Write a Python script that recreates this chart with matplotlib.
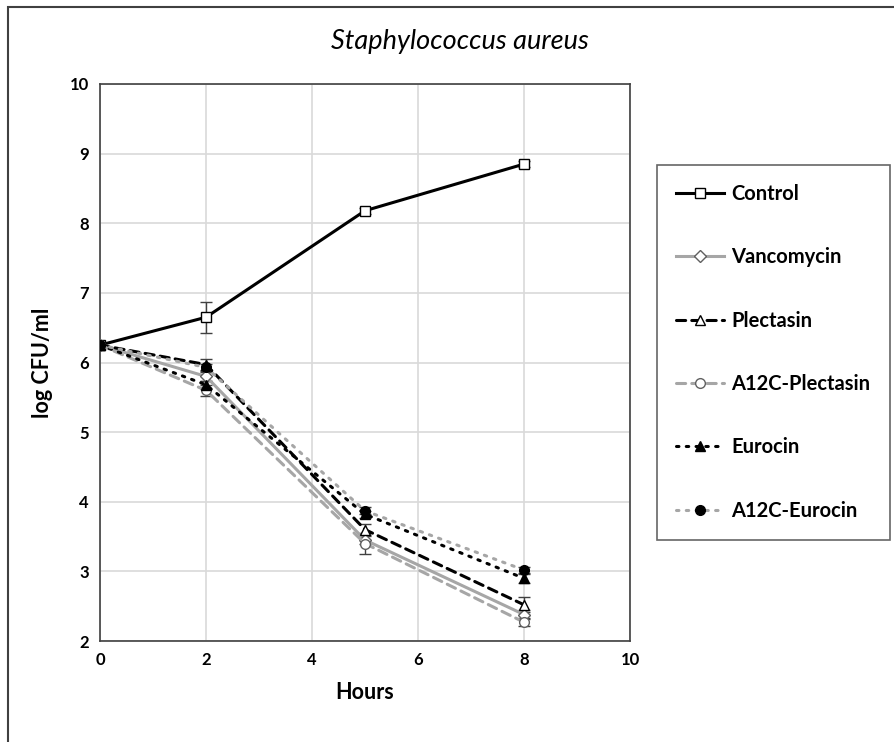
import numpy as np
import matplotlib.pyplot as plt
from matplotlib.patches import Rectangle

plt.rcParams['font.family'] = ['Lato', 'DejaVu Sans']

# time points (hours)
hours = [0, 2, 5, 8]

# log CFU/ml per treatment
control = [6.25, 6.65, 8.18, 8.85]
vancomycin = [6.25, 5.80, 3.45, 2.38]
plectasin = [6.25, 5.97, 3.60, 2.52]
a12c_plectasin = [6.25, 5.60, 3.40, 2.27]
eurocin = [6.25, 5.68, 3.82, 2.90]
a12c_eurocin = [6.25, 5.93, 3.87, 3.02]

# standard deviations
control_err = [0.03, 0.22, 0.04, 0.04]
vancomycin_err = [0.03, 0.06, 0.06, 0.06]
plectasin_err = [0.03, 0.08, 0.08, 0.11]
a12c_plectasin_err = [0.03, 0.08, 0.15, 0.06]
eurocin_err = [0.03, 0.06, 0.05, 0.06]
a12c_eurocin_err = [0.03, 0.05, 0.05, 0.05]

gray = '#a6a6a6'
dots = (0, (0.8, 2.4))
dashes = (0, (3, 2))

fig = plt.figure(figsize=(8.95, 7.42), dpi=100)
ax = fig.add_axes([100 / 895, 1 - 641 / 742, 530 / 895, 557 / 742])

# outer chart border
fig.patches.append(Rectangle((8 / 895, -0.05), 1.0, 1 - 7 / 742 + 0.05,
                             transform=fig.transFigure, fill=False,
                             edgecolor='#404040', lw=1.5))

series = [
    ("Control", control, control_err, 'k', '-', 's', 'white'),
    ("Vancomycin", vancomycin, vancomycin_err, gray, '-', 'D', 'white'),
    ("Plectasin", plectasin, plectasin_err, 'k', dashes, '^', 'white'),
    ("A12C-Plectasin", a12c_plectasin, a12c_plectasin_err, gray, dashes, 'o', 'white'),
    ("Eurocin", eurocin, eurocin_err, 'k', dots, '^', 'k'),
    ("A12C-Eurocin", a12c_eurocin, a12c_eurocin_err, gray, dots, 'o', 'k'),
]

for name, vals, err, col, ls, mk, fc in series:
    ax.errorbar(hours, vals, yerr=err, color=col, ecolor='#404040', elinewidth=1,
                capsize=4, capthick=1, ls='none', zorder=2)
    msize = 6 if mk == 'D' else 7
    ax.plot(hours, vals, color=col, ls=ls, lw=2.2, marker=mk, markersize=msize,
            markerfacecolor=fc, markeredgecolor='k' if fc == 'k' or col == 'k' else '#606060',
            markeredgewidth=1, dash_capstyle='round', label=name, zorder=3)

ax.set_xlim(0, 10)
ax.set_ylim(2, 10)
ax.set_xticks(range(0, 11, 2))
ax.set_yticks(range(2, 11))
ax.grid(True, color='#d9d9d9', lw=1.2)
ax.set_axisbelow(True)
for s in ax.spines.values():
    s.set_color('#404040')
    s.set_linewidth(1.2)
ax.tick_params(length=0, pad=8, labelsize=12)
for lab in ax.get_xticklabels() + ax.get_yticklabels():
    lab.set_fontweight('bold')

ax.set_xlabel("Hours", fontsize=15.5, fontweight='bold', labelpad=10)
ax.set_ylabel("log CFU/ml", fontsize=15.5, fontweight='bold', labelpad=12)
fig.text(460 / 895, 1 - 42 / 742, "Staphylococcus aureus", fontsize=19.5,
         style='italic', ha='center', va='center')

leg = fig.legend(loc='upper left', bbox_to_anchor=(657 / 895, 1 - 165 / 742),
                 frameon=True, fancybox=False, edgecolor='#404040',
                 prop={'weight': 'bold', 'size': 14.5}, labelspacing=2.15,
                 handlelength=2.4, handletextpad=0.35, borderpad=0.95,
                 borderaxespad=0)
leg.get_frame().set_linewidth(1.2)

fig.savefig("out.png", dpi=100)
